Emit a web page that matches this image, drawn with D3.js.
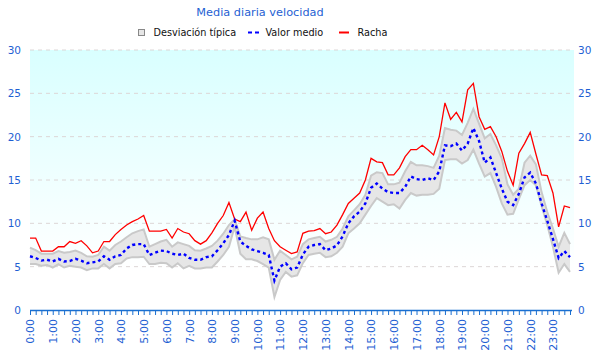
<!DOCTYPE html>
<html><head><meta charset="utf-8">
<script src="https://cdn.jsdelivr.net/npm/d3@7"></script>
<style>body{margin:0;background:#fff}svg{display:block;font-family:"DejaVu Sans",sans-serif}</style>
</head><body><svg id="c" width="600" height="360"></svg>
<script>
// 15-minute slots, 0:00 .. 23:45
const slots = d3.range(96);
const hourLabels = d3.range(24).map(h => h + ":00");
const racha = [8.3,8.3,6.8,6.8,6.8,7.3,7.3,7.9,7.7,8.0,7.4,6.6,6.8,7.9,7.9,8.7,9.3,9.8,10.2,10.5,10.9,9.1,9.1,9.1,9.3,8.3,9.4,9.0,8.8,8.0,7.6,8.0,
  8.9,10.0,10.9,12.4,10.5,10.2,11.3,9.2,10.6,11.3,9.4,8.0,7.3,6.9,6.5,6.7,8.85,9.1,9.15,9.4,8.8,9.0,9.8,11.0,12.3,12.9,13.5,15.0,
  17.5,17.1,17.0,15.6,15.6,16.4,17.7,18.5,18.5,19.0,18.5,17.9,20.0,23.9,22.0,22.8,21.7,25.4,26.15,22.3,20.85,21.15,20.0,18.3,
  16.0,14.4,18.1,19.2,20.5,18.0,15.6,15.5,13.5,9.6,12.0,11.8];
const media = [6.2,6.0,5.7,5.8,5.6,5.9,5.6,5.65,5.9,5.7,5.4,5.5,5.6,6.2,5.8,6.2,6.35,7.1,7.5,7.6,7.6,6.35,6.6,6.85,6.8,6.5,6.35,6.5,6.0,5.8,5.8,6.1,
  6.2,6.9,7.7,8.65,10.3,7.9,7.4,7.0,6.8,6.6,6.35,3.4,5.0,5.4,4.7,4.9,6.4,7.3,7.5,7.6,6.9,7.1,7.45,8.5,10.0,10.8,11.35,12.3,
  14.1,14.6,14.0,13.6,13.5,13.5,14.2,15.4,15.1,15.0,15.2,15.0,16.0,19.0,18.9,19.2,18.4,19.2,21.0,19.5,17.0,17.6,15.8,14.0,
  12.5,12.1,13.4,15.3,15.85,14.6,12.3,10.3,8.2,6.0,6.8,6.1];
const desvAlta = [7.2,6.9,6.5,6.5,6.5,6.8,6.6,6.7,6.85,6.6,6.2,6.15,6.35,7.3,6.85,7.5,7.9,8.4,8.85,9.1,9.3,7.3,7.6,7.9,8.1,7.3,7.8,7.6,7.4,6.9,6.85,7.1,
  7.4,8.0,8.8,9.8,10.45,8.5,8.3,8.15,8.15,8.4,8.15,5.8,6.85,6.35,5.85,6.15,7.6,8.15,8.3,8.45,7.9,8.1,8.45,9.4,10.8,11.5,12.2,13.3,
  15.5,15.9,15.8,14.5,14.5,14.7,16.0,17.1,16.7,16.7,16.6,16.4,17.8,21.0,20.8,20.7,20.2,21.6,23.2,21.5,19.8,20.3,19.0,17.5,
  14.5,13.3,14.0,17.0,17.8,16.8,13.6,11.3,9.4,7.3,8.9,7.6];
const desvBaja = [5.3,5.3,5.1,5.2,4.9,5.3,4.9,5.1,5.0,4.9,4.6,4.8,4.8,5.3,4.8,5.3,5.4,5.95,6.1,6.1,6.15,5.3,5.3,5.45,5.4,4.9,5.4,4.8,5.1,4.8,4.8,4.9,
  4.9,5.6,6.35,7.3,9.6,6.5,5.85,5.85,5.65,5.3,4.9,1.5,3.46,4.4,3.85,4.0,5.4,6.35,6.5,6.6,6.1,6.2,6.6,7.3,8.85,9.4,10.0,11.0,
  12.0,12.9,12.5,12.1,12.2,11.7,12.7,13.5,13.2,13.3,13.3,13.4,14.0,17.3,17.4,17.4,16.9,17.3,18.5,16.9,15.4,15.8,14.2,12.3,
  11.0,11.1,12.8,14.4,15.0,14.4,12.0,9.8,7.3,4.3,5.3,4.4];
const yTicks = [0,5,10,15,20,25,30];
const title = "Media diaria velocidad";
const legendLabels = ["Desviación típica","Valor medio","Racha"];

const svg = d3.select("#c");
const L = 30, R = 574, T = 50, B = 310;
const x = d3.scaleLinear().domain([0, 95]).range([30, 570]);
const y = d3.scaleLinear().domain([0, 30]).range([B, T]);
const blue = "#1f5fd3";

const defs = svg.append("defs");
const g = defs.append("linearGradient").attr("id","bg").attr("x1",0).attr("y1",0).attr("x2",0).attr("y2",1);
g.append("stop").attr("offset","0%").attr("stop-color","#d9ffff");
g.append("stop").attr("offset","85%").attr("stop-color","#ffffff");
svg.append("rect").attr("x",L).attr("y",T).attr("width",R-L).attr("height",B-T).attr("fill","url(#bg)");

// grid
svg.append("g").selectAll("line").data(yTicks.filter(v=>v>0)).join("line")
  .attr("x1",L).attr("x2",R).attr("y1",d=>y(d)).attr("y2",d=>y(d))
  .attr("stroke","#dcd6d6").attr("stroke-width",1).attr("stroke-dasharray","4,4");

// band
svg.append("path").datum(slots)
  .attr("d", d3.area().x(i=>x(i)).y0(i=>y(desvBaja[i])).y1(i=>y(desvAlta[i])))
  .attr("fill","#e6e6e6");
[desvAlta, desvBaja].forEach(arr => {
  svg.append("path").datum(slots)
    .attr("d", d3.line().x(i=>x(i)).y(i=>y(arr[i])))
    .attr("fill","none").attr("stroke","#c9c9c9").attr("stroke-width",2);
});
// racha
svg.append("path").datum(slots)
  .attr("d", d3.line().x(i=>x(i)).y(i=>y(racha[i])))
  .attr("fill","none").attr("stroke","#ff0000").attr("stroke-width",1.3);
// media
svg.append("path").datum(slots)
  .attr("d", d3.line().x(i=>x(i)).y(i=>y(media[i])))
  .attr("fill","none").attr("stroke","#0000ff").attr("stroke-width",2.4).attr("stroke-dasharray","3,3");

// x axis
const xa = svg.append("g").attr("transform",`translate(0,${B})`)
  .call(d3.axisBottom(x).tickValues(slots).tickSize(5).tickSizeOuter(0)
    .tickFormat(i => i % 4 === 0 ? hourLabels[i/4] : ""));
xa.select(".domain").attr("stroke","#1a6fd0").attr("stroke-width",1.5).attr("d",`M${L},0.5H${572}`);
xa.selectAll(".tick line").attr("stroke","#1a6fd0");
xa.selectAll(".tick text").attr("fill",blue).attr("font-size",11).attr("font-family","DejaVu Sans")
  .attr("text-anchor","end").attr("transform","rotate(-90)").attr("x",-9).attr("y",0).attr("dy","0.35em");

// y axes
const yl = svg.append("g").attr("transform",`translate(${L},0)`)
  .call(d3.axisLeft(y).tickValues(yTicks).tickSize(0).tickPadding(9));
yl.select(".domain").remove();
yl.selectAll("text").attr("fill",blue).attr("font-size",10.5).attr("font-family","DejaVu Sans");
const yr = svg.append("g").attr("transform",`translate(${R},0)`)
  .call(d3.axisRight(y).tickValues(yTicks).tickSize(0).tickPadding(4));
yr.select(".domain").remove();
yr.selectAll("text").attr("fill",blue).attr("font-size",10.5).attr("font-family","DejaVu Sans");

// title
svg.append("text").attr("x",260).attr("y",16).attr("text-anchor","middle")
  .attr("fill","#1f5fd3").attr("font-size",11.3).text(title);

// legend
const lg = svg.append("g").attr("font-size",9.7).attr("fill","#111");
lg.append("rect").attr("x",138.5).attr("y",29.5).attr("width",6).attr("height",6)
  .attr("fill","#e6e6e6").attr("stroke","#888");
lg.append("text").attr("x",153.5).attr("y",35.5).text(legendLabels[0]);
lg.append("line").attr("x1",248).attr("x2",259).attr("y1",32.5).attr("y2",32.5)
  .attr("stroke","#0000ff").attr("stroke-width",2).attr("stroke-dasharray","4,3");
lg.append("text").attr("x",265.5).attr("y",35.5).text(legendLabels[1]);
lg.append("line").attr("x1",339).attr("x2",349).attr("y1",32.5).attr("y2",32.5)
  .attr("stroke","#ff0000").attr("stroke-width",2);
lg.append("text").attr("x",357.5).attr("y",35.5).text(legendLabels[2]);
</script></body></html>
